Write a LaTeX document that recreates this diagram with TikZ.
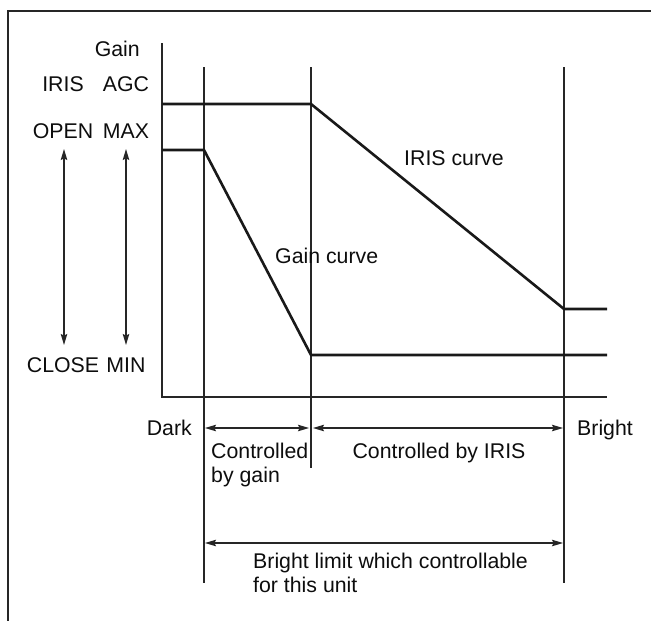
\documentclass[tikz,border=0pt]{standalone}
\usepackage{fontspec}
\setmainfont{Liberation Sans}
\usetikzlibrary{arrows.meta}
\begin{document}
\begin{tikzpicture}[x=1pt,y=-1pt,
  thin line/.style={line width=1.1pt, black!85},
  frame line/.style={line width=1.4pt, black!85},
  curve line/.style={line width=2.6pt, black!90, line join=miter},
  dim arrow/.style={thin line, {Stealth[length=11pt,width=6.5pt,inset=1.5pt]}-{Stealth[length=11pt,width=6.5pt,inset=1.5pt]}},
  lbl/.style={inner sep=0pt, font=\fontsize{21.3}{24}\selectfont, text=black!95}]
\useasboundingbox (0,0) rectangle (651,621);
% frame (top and left)
\coordinate (fTR) at (651,11);
\coordinate (fTL) at (8,11);
\coordinate (fBL) at (8,621);
\draw[frame line] (fTR) -- (fTL) -- (fBL);
% axes
\coordinate (yTop) at (162,43);
\coordinate (origin) at (162,397);
\coordinate (xEnd) at (607,397);
\draw[thin line] (yTop) -- (origin) -- (xEnd);
% vertical guide lines
\coordinate (v1t) at (204,67); \coordinate (v1b) at (204,583);
\coordinate (v2t) at (311,67); \coordinate (v2b) at (311,468);
\coordinate (v3t) at (564,67); \coordinate (v3b) at (564,583);
\draw[thin line] (v1t) -- (v1b);
\draw[thin line] (v2t) -- (v2b);
\draw[thin line] (v3t) -- (v3b);
% IRIS curve
\coordinate (i0) at (162,104); \coordinate (i1) at (311,104);
\coordinate (i2) at (564,309); \coordinate (i3) at (607,309);
\draw[curve line] (i0) -- (i1) -- (i2) -- (i3);
% Gain curve
\coordinate (g0) at (162,150); \coordinate (g1) at (204,150);
\coordinate (g2) at (311,355); \coordinate (g3) at (607,355);
\draw[curve line] (g0) -- (g1) -- (g2) -- (g3);
% left labels
\node[lbl, anchor=base east] (gainlbl) at (140,56.5) {Gain};
\node[lbl, anchor=base] (iris) at (63,91.5) {IRIS};
\node[lbl, anchor=base] (agc) at (126,91.5) {AGC};
\node[lbl, anchor=base] (open) at (63,138) {OPEN};
\node[lbl, anchor=base] (max) at (126,138) {MAX};
\node[lbl, anchor=base] (close) at (63,372.5) {CLOSE};
\node[lbl, anchor=base] (min) at (126,372.5) {MIN};
\coordinate (ia) at (64,149); \coordinate (ib) at (64,345);
\coordinate (ma) at (126,149); \coordinate (mb) at (126,345);
\draw[dim arrow] (ia) -- (ib);
\draw[dim arrow] (ma) -- (mb);
% curve labels
\node[lbl, anchor=base west] (gcurve) at (275,263) {Gain curve};
\node[lbl, anchor=base west] (icurve) at (404,165) {IRIS curve};
% bottom
\node[lbl, anchor=base east] (dark) at (192,435) {Dark};
\node[lbl, anchor=base west] (bright) at (577,435) {Bright};
\coordinate (a1l) at (205,428); \coordinate (a1r) at (309,428);
\coordinate (a2l) at (313,428); \coordinate (a2r) at (563,428);
\draw[dim arrow] (a1l) -- (a1r);
\draw[dim arrow] (a2l) -- (a2r);
\node[lbl, anchor=base west, align=left] (cgain) at (211,482) {Controlled\\by gain};
\node[lbl, anchor=base] (ciris) at (439,458) {Controlled by IRIS};
\coordinate (bl) at (205,543); \coordinate (br) at (563,543);
\draw[dim arrow] (bl) -- (br);
\node[lbl, anchor=base west, align=left] (blimit) at (253,592) {Bright limit which controllable\\for this unit};
\end{tikzpicture}
\end{document}
